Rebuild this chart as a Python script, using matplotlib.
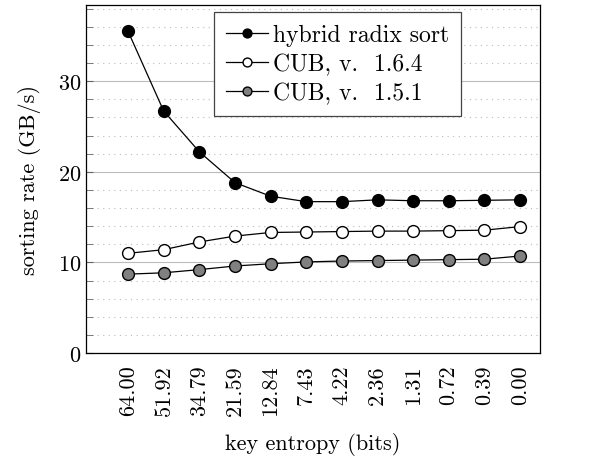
import matplotlib
matplotlib.use("Agg")
import matplotlib.pyplot as plt
from matplotlib.ticker import MultipleLocator

plt.rcParams['font.family'] = ['cmr10', 'DejaVu Serif']
plt.rcParams['axes.formatter.use_mathtext'] = True
plt.rcParams['mathtext.fontset'] = 'cm'

entropy_labels = ["64.00", "51.92", "34.79", "21.59", "12.84", "7.43",
                  "4.22", "2.36", "1.31", "0.72", "0.39", "0.00"]
hybrid_radix = [35.5, 26.7, 22.2, 18.8, 17.3, 16.7, 16.7, 16.9, 16.8, 16.8, 16.85, 16.9]
cub_164 = [11.0, 11.4, 12.25, 12.9, 13.3, 13.35, 13.4, 13.45, 13.45, 13.5, 13.55, 13.95]
cub_151 = [8.7, 8.85, 9.2, 9.6, 9.85, 10.05, 10.15, 10.2, 10.25, 10.3, 10.35, 10.7]

positions = list(range(len(entropy_labels)))
fs = 16

fig = plt.figure(figsize=(5.99, 4.60), dpi=100)
ax = fig.add_axes([86 / 599, 1 - 354 / 460, (540 - 86) / 599, (354 - 6) / 460])

marker_kw = dict(marker='o', markersize=8.5, markeredgecolor='black',
                 markeredgewidth=1.0, color='black', linewidth=0.9)
ax.plot(positions, hybrid_radix, markerfacecolor='black', label='hybrid radix sort', **marker_kw)
ax.plot(positions, cub_164, markerfacecolor='white', label='CUB, v.  1.6.4', **marker_kw)
ax.plot(positions, cub_151, markerfacecolor='#808080', label='CUB, v.  1.5.1', **marker_kw)

ax.set_xlim(-1.18, 11.56)
ax.set_ylim(0, 38.4)
ax.yaxis.set_major_locator(MultipleLocator(10))
ax.yaxis.set_minor_locator(MultipleLocator(2))
ax.set_xticks(positions)
ax.set_xticklabels(entropy_labels, rotation=90, fontsize=fs)
ax.tick_params(axis='y', labelsize=fs, which='major', direction='in', length=5, width=0.8, color='#666666')
ax.tick_params(axis='y', which='minor', direction='in', length=5, width=0.6, color='#666666')
ax.tick_params(axis='x', length=0, pad=8)

ax.grid(True, which='major', axis='y', color='#bbbbbb', linewidth=0.8, linestyle='-')
ax.grid(True, which='minor', axis='y', color='#bbbbbb', linewidth=0.8, linestyle=(0, (1, 4)))
ax.set_axisbelow(True)
for s in ax.spines.values():
    s.set_linewidth(0.9)

ax.set_xlabel("key entropy (bits)", fontsize=fs, labelpad=12)
ax.set_ylabel("sorting rate (GB/s)", fontsize=fs, labelpad=12)

leg = ax.legend(loc='upper left', bbox_to_anchor=(214 / 599, 1 - 13 / 460),
                bbox_transform=fig.transFigure, fontsize=17, fancybox=False,
                edgecolor='#444444', framealpha=1, handlelength=1.8,
                handletextpad=0.2, borderpad=0.5, labelspacing=0.3,
                borderaxespad=0, markerscale=0.75)
leg.get_frame().set_linewidth(0.9)

fig.savefig("out.png", dpi=100)
